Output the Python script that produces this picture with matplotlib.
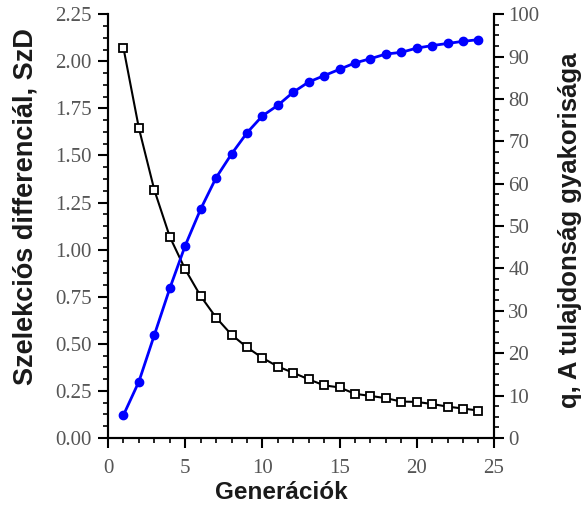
import matplotlib
matplotlib.use("Agg")
import matplotlib.pyplot as plt
from matplotlib.ticker import AutoMinorLocator, MultipleLocator

# generations
gen = list(range(1, 25))
# selection differential SzD (left axis)
szd = [2.07, 1.644, 1.316, 1.068, 0.895, 0.753, 0.639, 0.548, 0.481, 0.425,
       0.379, 0.346, 0.311, 0.279, 0.268, 0.234, 0.223, 0.211, 0.193, 0.191,
       0.180, 0.166, 0.156, 0.145]
# q, trait frequency (right axis)
q = [5.4, 13.3, 24.3, 35.3, 45.4, 54.0, 61.4, 67.0, 72.0, 76.0,
     78.5, 81.6, 84.0, 85.5, 87.0, 88.5, 89.5, 90.6, 91.0, 92.0,
     92.6, 93.1, 93.6, 94.0]

lab_font = dict(family="Liberation Sans", weight="bold", color="#1a1a1a")

fig = plt.figure(figsize=(5.81, 5.08), dpi=100)
ax = fig.add_axes([0.186, 0.138, 0.664, 0.834])
ax2 = ax.twinx()

ax.plot(gen, szd, color="black", lw=1.5, marker="s", ms=6,
        mfc="white", mec="black", mew=1.3)
ax2.plot(gen, q, color="blue", lw=2, marker="o", ms=6, mec="blue")

ax.set_xlim(0, 25)
ax.set_ylim(0, 2.25)
ax2.set_ylim(0, 100)

ax.xaxis.set_major_locator(MultipleLocator(5))
ax.xaxis.set_minor_locator(AutoMinorLocator(5))
ax.yaxis.set_major_locator(MultipleLocator(0.25))
ax.yaxis.set_minor_locator(AutoMinorLocator(4))
ax2.yaxis.set_major_locator(MultipleLocator(10))
ax2.yaxis.set_minor_locator(AutoMinorLocator(4))
ax.yaxis.set_major_formatter(lambda v, p: f"{v:.2f}")

for a in (ax, ax2):
    a.spines["top"].set_visible(False)
    for s in a.spines.values():
        s.set_linewidth(1.5)
    a.tick_params(which="major", length=7, width=1.5, direction="out")
    a.tick_params(which="minor", length=3.5, width=1.2, direction="out")
    for t in a.get_xticklabels() + a.get_yticklabels():
        t.set_fontfamily("Liberation Serif")
        t.set_fontsize(15)
        t.set_color("#555555")
ax.tick_params(axis="x", pad=8)
ax.tick_params(axis="y", pad=5)

ax.set_xlabel("Generációk", size=17.5, va="center", **lab_font)
ax.set_ylabel("Szelekciós differenciál, SzD", size=19.5, va="center", **lab_font)
ax2.set_ylabel("q, A tulajdonság gyakorisága", size=18.5, va="center", **lab_font)
ax.xaxis.set_label_coords(0.45, -0.128)
ax.yaxis.set_label_coords(-0.215, 0.545)
ax2.yaxis.set_label_coords(1.197, 0.49)

fig.savefig("out.png", dpi=100)
